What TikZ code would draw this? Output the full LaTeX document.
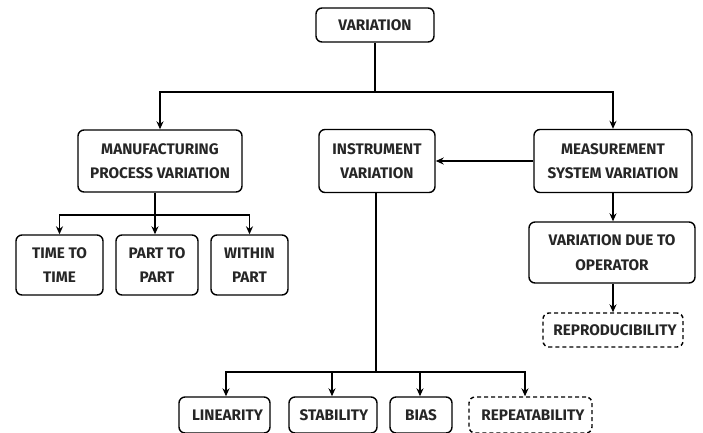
\documentclass[tikz,border=0pt]{standalone}
\usepackage{fontspec}
\setmainfont{Fira Sans}
\usetikzlibrary{arrows.meta}
\tikzset{
  box/.style={draw, line width=1.4pt, rounded corners=6pt, align=center, inner sep=0pt,
    font=\fontsize{15.3}{24.5}\selectfont\bfseries, text=black!85},
  dbox/.style={box, dashed, dash pattern=on 4pt off 3pt},
  conn/.style={line width=1.4pt},
  arr/.style={conn, -{Stealth[length=8pt,width=7pt]}}
}
\begin{document}
\begin{tikzpicture}[x=1pt,y=-1pt]
\useasboundingbox (0,0) rectangle (703,432);
\node[box, minimum width=118pt, minimum height=34pt] (var) at (375,25) {VARIATION};
\node[box, minimum width=164pt, minimum height=62pt] (mpv) at (160,161) {MANUFACTURING\\PROCESS VARIATION};
\node[box, minimum width=116pt, minimum height=63pt] (iv) at (377,161) {INSTRUMENT\\VARIATION};
\node[box, minimum width=158pt, minimum height=63pt] (msv) at (613,161) {MEASUREMENT\\SYSTEM VARIATION};
\node[box, minimum width=87pt, minimum height=60pt] (ttt) at (59.5,265) {TIME TO\\TIME};
\node[box, minimum width=82pt, minimum height=60pt] (ptp) at (157,265) {PART TO\\PART};
\node[box, minimum width=77pt, minimum height=60pt] (wp) at (249.5,265) {WITHIN\\PART};
\node[box, minimum width=166pt, minimum height=61pt] (vdo) at (612,252.5) {VARIATION DUE TO\\OPERATOR};
\node[dbox, minimum width=140pt, minimum height=34pt] (rep) at (613,330) {\hspace*{4pt}REPRODUCIBILITY};
\node[box, minimum width=91pt, minimum height=36pt] (lin) at (224.5,415) {\hspace*{6pt}LINEARITY};
\node[box, minimum width=88pt, minimum height=36pt] (sta) at (333,415) {\hspace*{2pt}STABILITY};
\node[box, minimum width=62pt, minimum height=36pt] (bias) at (421,415) {BIAS};
\node[dbox, minimum width=123pt, minimum height=36pt] (rpt) at (530.5,415) {\hspace*{5pt}REPEATABILITY};
% coordinates for junctions
\coordinate (j1) at (375,92);
\coordinate (j2) at (155,215);
\coordinate (j3) at (376,372);
% VARIATION branch
\draw[conn] (var.south) -- (j1);
\draw[arr] (j1) -| (mpv.north);
\draw[arr] (j1) -| (msv.north);
% Manufacturing branch
\draw[conn] (mpv.south -| j2) -- (j2);
\draw[arr] (j2) -| (ttt.north);
\draw[arr] (j2) -- (ptp.north -| j2);
\draw[arr] (j2) -| (wp.north);
% Measurement branch
\draw[arr] (msv.west) -- (iv.east);
\draw[arr] (msv.south) -- (vdo.north -| msv.south);
\draw[arr] (vdo.south -| msv.south) -- (rep.north -| msv.south);
% Instrument branch
\draw[conn] (iv.south -| j3) -- (j3);
\draw[arr] (j3) -| (lin.north -| 226,0);
\draw[arr] (j3) -| (sta.north -| 332,0);
\draw[arr] (j3) -| (bias.north -| 420,0);
\draw[arr] (j3) -| (rpt.north -| 525,0);
\end{tikzpicture}
\end{document}
